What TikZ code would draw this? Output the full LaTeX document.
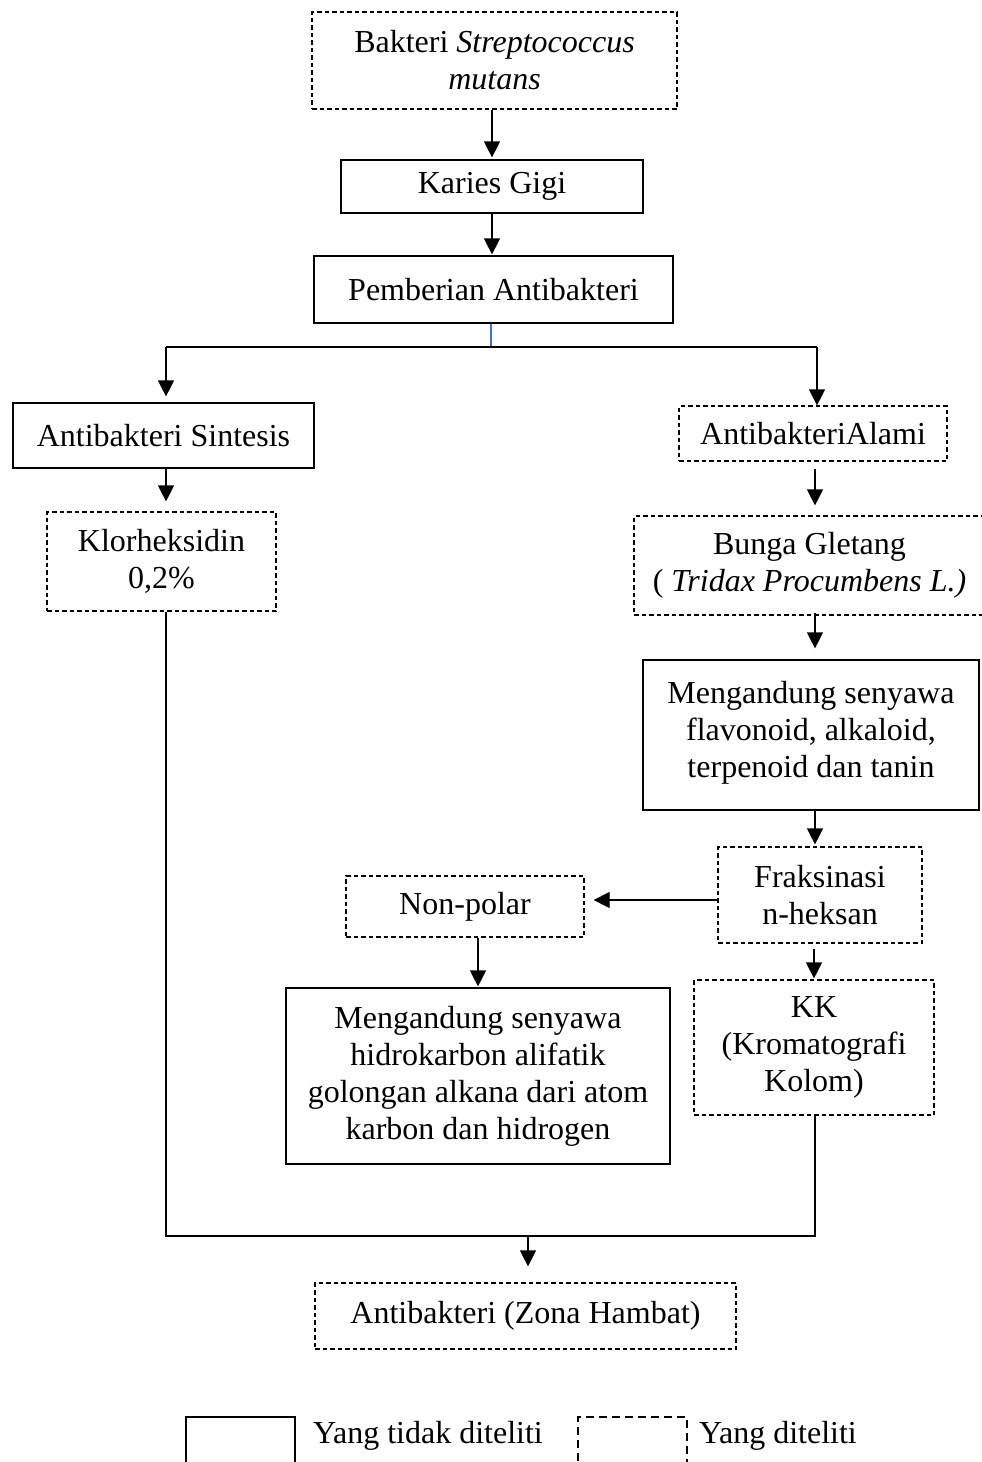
\documentclass[tikz,border=0pt]{standalone}
\usepackage{fontspec}
\setmainfont{Liberation Serif}
\usetikzlibrary{arrows.meta,calc}
\begin{document}
\begin{tikzpicture}[x=1pt,y=-1pt,
  box/.style={draw=black,line width=1.2pt,inner sep=0pt,align=center,font=\fontsize{32}{37}\selectfont},
  dbox/.style={box,dash pattern=on 4.5pt off 3pt},
  arr/.style={line width=1.2pt,-{Triangle[length=16pt,width=16pt]}},
  con/.style={line width=1.2pt},
  txt/.style={inner sep=0pt,font=\fontsize{32}{37}\selectfont},
  legsolid/.style={draw=black,line width=2.2pt},
  legdash/.style={draw=black,line width=2.2pt,dash pattern=on 8pt off 5pt}]
\useasboundingbox (0,0) rectangle (982,1462);
% nodes
\node[dbox,minimum width=365,minimum height=97] (bak) at (494.5,60.5) {Bakteri \textit{Streptococcus}\\\textit{mutans}};
\node[box,minimum width=302,minimum height=53] (kar) at (492,186.5) {Karies Gigi};
\node[box,minimum width=359,minimum height=67] (pem) at (493.5,289.5) {Pemberian Antibakteri};
\node[box,minimum width=301,minimum height=65] (sin) at (163.5,435.5) {Antibakteri Sintesis};
\node[dbox,minimum width=229,minimum height=99] (klo) at (161.5,561.5) {Klorheksidin\\0,2\%};
\node[dbox,minimum width=268,minimum height=55] (ala) at (813,433.5) {AntibakteriAlami};
\node[dbox,minimum width=351,minimum height=99] (bun) at (809.5,565.5) {Bunga Gletang\\( \textit{Tridax Procumbens L.)}};
\node[box,minimum width=336,minimum height=150] (men1) at (811,735) {Mengandung senyawa\\flavonoid, alkaloid,\\terpenoid dan tanin\\[-25pt]};
\node[dbox,minimum width=204,minimum height=96] (fra) at (820,895) {Fraksinasi\\n-heksan};
\node[dbox,minimum width=238,minimum height=61] (non) at (465,906.5) {Non-polar};
\node[box,minimum width=384,minimum height=176] (men2) at (478,1076) {Mengandung senyawa\\hidrokarbon alifatik\\golongan alkana dari atom\\karbon dan hidrogen};
\node[dbox,minimum width=240,minimum height=135] (kk) at (814,1047.5) {KK\\(Kromatografi\\Kolom)};
\node[dbox,minimum width=421,minimum height=66] (zon) at (525.5,1316) {Antibakteri (Zona Hambat)};
% coordinates
\coordinate (split) at (491,347);
\coordinate (jl) at (166,1236);
\coordinate (jr) at (815,1236);
% connectors
\draw[arr] (bak.south -| kar.north) -- ($(kar.north)+(0,-2)$);
\draw[arr] (kar.south) -- ($(kar.south |- pem.north)+(0,-1)$);
\draw[con,draw={rgb,255:red,68;green,114;blue,196}] (split |- pem.south) -- (split);
\draw[con] (166,347) -- (817,347);
\draw[arr] (166,347) -- ($(166,0 |- sin.north)+(0,-6)$);
\draw[arr] (817,347) -- ($(817,0 |- ala.north)+(0,0)$);
\draw[arr] (166,0 |- sin.south) -- ($(166,0 |- klo.north)+(0,-10)$);
\draw[arr] (815,0 |- ala.south) ++(0,7) -- ($(815,0 |- bun.north)+(0,-10)$);
\draw[arr] ($(815,0 |- bun.south)+(0,-3)$) -- ($(815,0 |- men1.north)+(0,-11)$);
\draw[arr] (815,0 |- men1.south) -- ($(815,0 |- fra.north)+(0,-2)$);
\draw[arr] ($(fra.west)+(0,5)$) -- ($(non.east |- fra.west)+(9,5)$);
\draw[arr] (478,0 |- non.south) -- ($(478,0 |- men2.north)+(0,-1)$);
\draw[arr] ($(814,0 |- fra.south)+(0,5)$) -- ($(814,0 |- kk.north)+(0,-1)$);
\draw[con] (166,0 |- klo.south) -- (jl) -- (jr) -- (815,0 |- kk.south);
\draw[arr] (528,0 |- jl) -- ($(528,0 |- zon.north)+(0,-16)$);
% legend
\node[legsolid,minimum width=109,minimum height=58,inner sep=0pt] (ls) at (240.5,1446) {};
\node[txt,anchor=base west] (lst) at (313,1443) {Yang tidak diteliti};
\node[legdash,minimum width=109,minimum height=58,inner sep=0pt] (ld) at (632.5,1446) {};
\node[txt,anchor=base west] (ldt) at (699,1443) {Yang diteliti};
\end{tikzpicture}
\end{document}
